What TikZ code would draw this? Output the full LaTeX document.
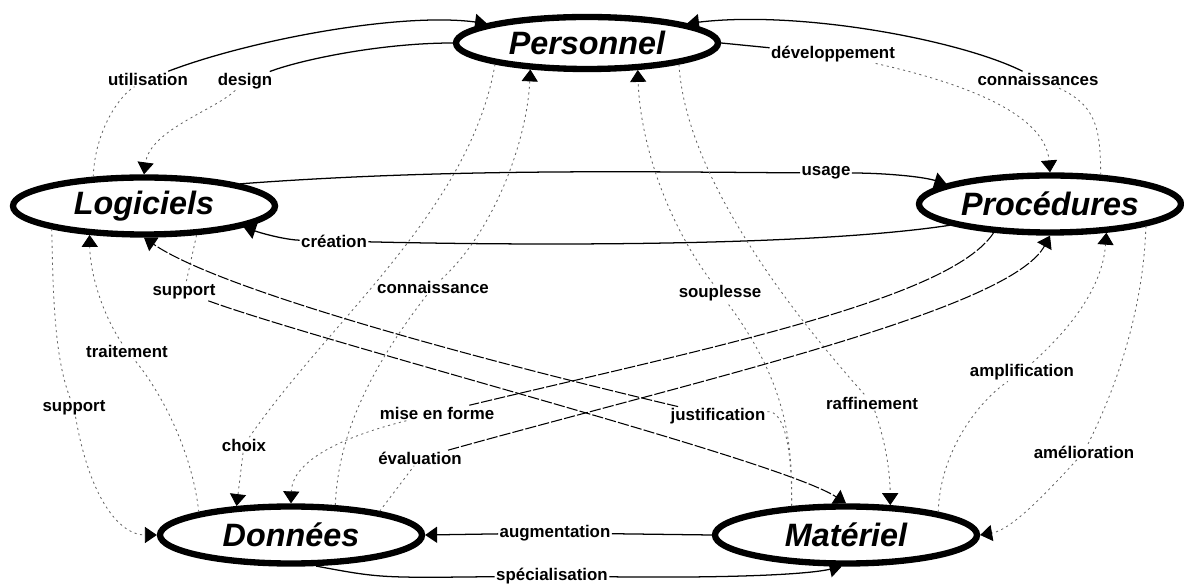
\documentclass[tikz,border=0pt]{standalone}
\usepackage{fontspec}
\setmainfont{Liberation Sans}
\usetikzlibrary{shapes.geometric,arrows.meta}

\tikzset{
  ovale/.style={ellipse, draw, line width=9pt, minimum width=131mm, minimum height=28.5mm,
    inner sep=0pt, font=\bfseries\itshape\fontsize{46}{50}\selectfont},
  etiq/.style={font=\bfseries\fontsize{24}{26}\selectfont, inner sep=2pt},
  fil/.style={line width=1.8pt},
  tiret/.style={line width=1.5pt, dash pattern=on 16pt off 3pt},
  pale/.style={line width=1.2pt, black!60, dash pattern=on 3pt off 5pt},
  fleche/.style={-{Triangle[width=23pt,length=17pt,color=black]}}
}

\begin{document}
\begin{tikzpicture}[x=0.5mm, y=0.5mm]
  \useasboundingbox (0,0) rectangle (1184,583);

  \node[ovale, minimum height=26mm] (pers) at (587,540) {Personnel};
  \node[ovale] (logi) at (144,377) {Logiciels};
  \node[ovale] (proc) at (1050,379) {Procédures};
  \node[ovale] (donn) at (291,48) {Données};
  \node[ovale] (mate) at (846,48) {Matériel};

  \node[etiq] (util) at (148,504) {utilisation};
  \node[etiq] (design) at (245,502) {design};
  \node[etiq] (dev) at (833,529) {développement};
  \node[etiq] (conns) at (1038,504) {connaissances};
  \node[etiq] (usage) at (826,410) {usage};
  \node[etiq] (creat) at (334,342) {création};
  \node[etiq] (suppA) at (184,291) {support};
  \node[etiq] (conn) at (433,296) {connaissance};
  \node[etiq] (soupl) at (720,290) {souplesse};
  \node[etiq] (trait) at (127,232) {traitement};
  \node[etiq] (suppB) at (74,175) {support};
  \node[etiq] (mise) at (437,170) {mise en forme};
  \node[etiq] (justif) at (718,167) {justification};
  \node[etiq] (raff) at (872,180) {raffinement};
  \node[etiq] (ampl) at (1022,211) {amplification};
  \node[etiq] (amel) at (1084,131) {amélioration};
  \node[etiq] (choix) at (244,138) {choix};
  \node[etiq] (eval) at (420,125) {évaluation};
  \node[etiq] (augm) at (555,50) {augmentation};
  \node[etiq] (spec) at (552,7) {spécialisation};

  \draw[pale] (logi.150) .. controls (95,453) and (120,488) .. (util);
  \draw[fil, fleche] (util) .. controls (250,543) and (400,571) .. (pers.169);

  \draw[fil] (pers.west) .. controls (380,540) and (300,523) .. (design);
  \draw[pale, fleche] (design) .. controls (215,473) and (150,453) .. (logi.north);

  \draw[fil] (pers.east) -- (dev);
  \draw[pale, fleche] (dev) .. controls (950,503) and (1045,473) .. (proc.north);

  \draw[pale] (proc.30) .. controls (1100,453) and (1098,478) .. (conns);
  \draw[fil, fleche] (conns) .. controls (960,543) and (800,573) .. (pers.11);

  \draw[fil] (logi.13) .. controls (450,415) and (650,411) .. (usage);
  \draw[fil, fleche] (usage) .. controls (880,410) and (920,407) .. (proc.169);

  \draw[fil] (proc.192) .. controls (800,335) and (500,338) .. (creat);
  \draw[fil, fleche] (creat) .. controls (290,343) and (270,347) .. (logi.-12);

  \draw[pale] (logi.-29) -- (suppA);
  \draw[tiret, fleche] (suppA) .. controls (330,238) and (780,123) .. (mate.north);

  \draw[pale] (donn.34) .. controls (338,143) and (365,208) .. (conn);
  \draw[pale, fleche] (conn) .. controls (495,353) and (527,443) .. (pers.205);

  \draw[pale] (pers.193) .. controls (470,373) and (330,263) .. (choix);
  \draw[pale, fleche] (choix) -- (donn.152);

  \draw[pale] (mate.152) .. controls (793,143) and (785,203) .. (soupl);
  \draw[pale, fleche] (soupl) .. controls (665,363) and (640,443) .. (pers.-28);

  \draw[pale] (pers.-13) .. controls (685,413) and (780,283) .. (raff);
  \draw[pale, fleche] (raff) .. controls (885,143) and (890,113) .. (mate.34);

  \draw[pale] (mate.152) .. controls (792,133) and (785,173) .. (justif);
  \draw[tiret, fleche] (justif) .. controls (480,223) and (220,293) .. (logi.south);

  \draw[tiret] (proc.207) .. controls (950,283) and (700,233) .. (mise);
  \draw[pale, fleche] (mise) .. controls (330,143) and (292,118) .. (donn.north);

  \draw[pale] (donn.15) -- (eval);
  \draw[tiret, fleche] (eval) .. controls (700,203) and (1010,273) .. (proc.south);

  \draw[pale] (mate.14) .. controls (940,133) and (980,183) .. (ampl);
  \draw[pale, fleche] (ampl) .. controls (1080,263) and (1103,303) .. (proc.-27);

  \draw[pale] (proc.-13) .. controls (1143,263) and (1110,183) .. (amel);
  \draw[pale, fleche] (amel) .. controls (1040,83) and (1010,53) .. (mate.east);

  \draw[pale] (donn.166) .. controls (192,133) and (160,193) .. (trait);
  \draw[pale, fleche] (trait) .. controls (100,273) and (90,313) .. (logi.208);

  \draw[pale] (logi.194) .. controls (53,283) and (55,223) .. (suppB);
  \draw[pale, fleche] (suppB) .. controls (90,83) and (120,48) .. (donn.west);

  \draw[fil] (mate.west) -- (augm);
  \draw[fil, fleche] (augm) -- (donn.east);

  \draw[fil] (donn.-51) .. controls (380,5) .. (spec);
  \draw[fil, fleche] (spec) .. controls (700,5) and (800,7) .. (mate.262);
\end{tikzpicture}
\end{document}
